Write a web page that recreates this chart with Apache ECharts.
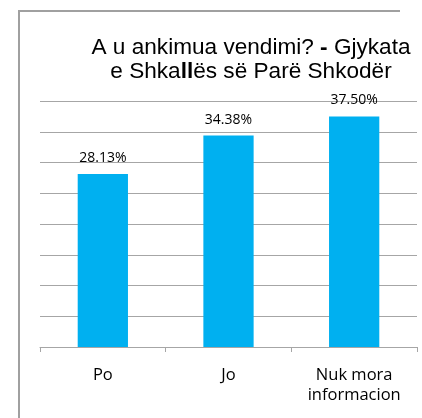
<!DOCTYPE html>
<html>
<head>
<meta charset="utf-8">
<script src="https://cdn.jsdelivr.net/npm/echarts@6/dist/echarts.min.js"></script>
<style>
  html, body { margin: 0; padding: 0; background: #fff; overflow: hidden; }
  #chart { width: 422px; height: 418px; }
</style>
</head>
<body>
<div id="chart"></div>
<script>
/* 데이터 */
const categories = ['Po', 'Jo', 'Nuk mora\ninformacion'];
const shares = [28.13, 34.38, 37.50];
const axisMax = 40;
const axisStep = 5;

const chart = echarts.init(document.getElementById('chart'), null, { renderer: 'canvas' });

const LABEL_FONT = "'Open Sans', sans-serif";
const TITLE_FONT = "'Liberation Sans', Arial, sans-serif";

chart.setOption({
  animation: false,
  title: {
    text: 'A u ankimua vendimi? {b|-} Gjykata\ne Shka{b|ll}ës së Parë Shkodër',
    left: 246,
    top: 31,
    textAlign: 'center',
    textStyle: {
      fontFamily: TITLE_FONT,
      fontSize: 22.6,
      fontWeight: 'normal',
      color: '#000',
      lineHeight: 24,
      rich: {
        b: { fontFamily: TITLE_FONT, fontSize: 22.6, fontWeight: 'bold', color: '#000', lineHeight: 24 }
      }
    }
  },
  // 외곽 테두리 (위쪽, 왼쪽)
  graphic: [
    { type: 'line', silent: true, shape: { x1: 18, y1: 11, x2: 400, y2: 11 },
      style: { stroke: '#a0a0a0', lineWidth: 2 } },
    { type: 'line', silent: true, shape: { x1: 19, y1: 10, x2: 19, y2: 418 },
      style: { stroke: '#a0a0a0', lineWidth: 2 } }
  ],
  grid: { left: 40, right: 5, top: 101, bottom: 71, containLabel: false },
  xAxis: {
    type: 'category',
    data: categories,
    axisLine: { lineStyle: { color: '#a6a6a6', width: 1 } },
    axisTick: { show: true, length: 5, lineStyle: { color: '#a6a6a6' } },
    axisLabel: {
      margin: 18,
      color: '#000',
      fontFamily: LABEL_FONT,
      fontSize: 16.5,
      lineHeight: 20
    }
  },
  yAxis: {
    type: 'value',
    min: 0,
    max: axisMax,
    interval: axisStep,
    axisLabel: { show: false },
    axisLine: { show: false },
    axisTick: { show: false },
    splitLine: { lineStyle: { color: '#a6a6a6', width: 1 } }
  },
  series: [{
    type: 'bar',
    data: shares,
    barWidth: '40%',
    itemStyle: { color: '#00b0f0' },
    label: {
      show: true,
      position: 'top',
      distance: 9,
      color: '#000',
      fontFamily: LABEL_FONT,
      fontSize: 14,
      formatter: p => p.value.toFixed(2) + '%'
    }
  }]
});
</script>
</body>
</html>
